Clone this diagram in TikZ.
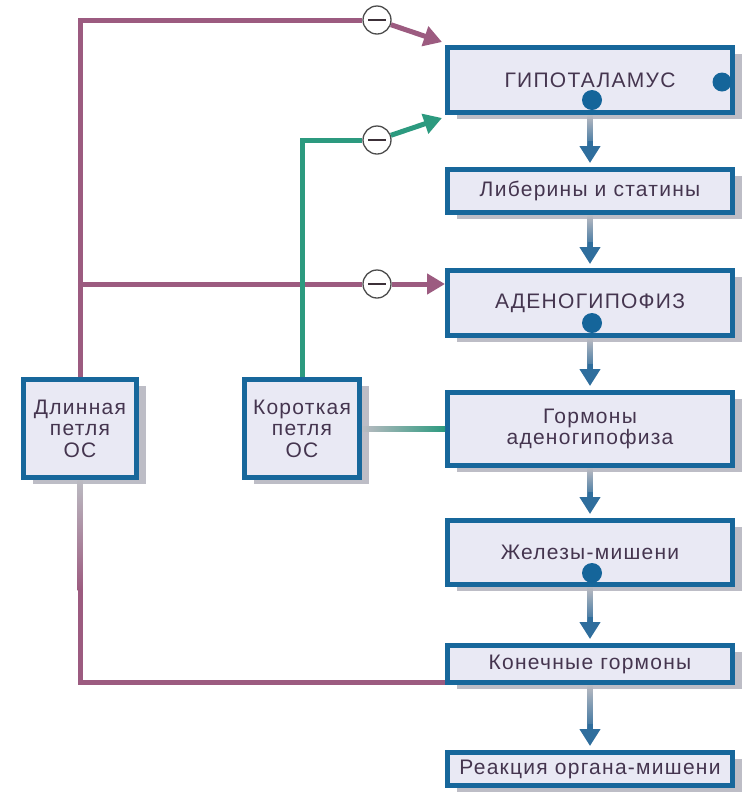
\documentclass[tikz,border=0pt]{standalone}
\usepackage{fontspec}
\setmainfont{Liberation Sans}[LetterSpace=6]
\usetikzlibrary{arrows.meta,calc}
\definecolor{bord}{HTML}{17679B}
\definecolor{boxfill}{HTML}{E9E9F4}
\definecolor{shad}{HTML}{BDBDC6}
\definecolor{txt}{HTML}{45354F}
\definecolor{mauve}{HTML}{9C5B80}
\definecolor{loopgreen}{HTML}{2C9A7F}
\definecolor{lgrey}{HTML}{BBBBC2}
\definecolor{arrblue}{HTML}{2F6E9D}
\definecolor{dotblue}{HTML}{15659A}
\definecolor{minuscol}{HTML}{3C3038}
\tikzset{
  box/.style={draw=bord, line width=5pt, fill=boxfill, inner sep=0pt, text=txt,
    font=\fontsize{21}{21.5}\selectfont, align=center, minimum width=285pt,
    preaction={fill=shad, transform canvas={shift={(9pt,-6pt)}}}},
  mauveline/.style={draw=mauve, line width=5pt},
  greenline/.style={draw=loopgreen, line width=5pt},
  tipm/.style={-{Triangle[length=18pt,width=20pt]}},
  minus/.style={circle, draw=black!70, line width=1.3pt, fill=white, minimum size=28pt, inner sep=0pt,
    path picture={\draw[line width=1.8pt, draw=minuscol] ([xshift=-9pt]path picture bounding box.center) -- ([xshift=9pt]path picture bounding box.center);}},
  bluedot/.style={fill=dotblue}
}
\newcommand\flowarr[2]{%
  \shade[top color=lgrey, bottom color=arrblue] ($(#1.south)+(-2.5,0)$) rectangle ($(#2.north)+(2.5,-18)$);
  \draw[arrblue, line width=5pt, -{Triangle[length=17pt,width=20pt]}] ($(#2.north)+(0,-26)$) -- ($(#2.north)+(0,-4)$);
}
\begin{document}
\begin{tikzpicture}[x=1pt,y=-1pt]
\useasboundingbox[fill=white] (0,0) rectangle (746,796);

% right column
\node[box, minimum height=65pt] (hyp) at (590,80) {ГИПОТАЛАМУС};
\node[box, minimum height=43pt] (lib) at (590,191) {Либерины и статины};
\node[box, minimum height=65pt] (aden) at (590,303) {АДЕНОГИПОФИЗ};
\node[box, minimum height=73pt] (gorm) at (590,429) {Гормоны\\аденогипофиза};
\node[box, minimum height=64pt] (zhel) at (590,552.5) {Железы-мишени};
\node[box, minimum height=37pt] (kon) at (590,664) {Конечные гормоны};
\node[box, minimum height=33pt] (reak) at (590,769) {Реакция органа-мишени};

% left boxes
\node[box, minimum width=113pt, minimum height=98pt] (long) at (80,428.5) {Длинная\\петля\\ОС};
\node[box, minimum width=115pt, minimum height=98pt] (short) at (302,428.5) {Короткая\\петля\\ОС};

% dots
\fill[bluedot] ($(hyp.south)+(2,-15)$) circle (10pt);
\fill[bluedot] ($(hyp.east)+(-13,2)$) circle (9.5pt);
\fill[bluedot] ($(aden.south)+(2,-15)$) circle (10pt);
\fill[bluedot] ($(zhel.south)+(2,-14)$) circle (10pt);

% flow arrows
\flowarr{hyp}{lib}
\flowarr{lib}{aden}
\flowarr{aden}{gorm}
\flowarr{gorm}{zhel}
\flowarr{zhel}{kon}
\flowarr{kon}{reak}

% minus circles
\node[minus] (m1) at (377,20) {};
\node[minus] (m2) at (377,140) {};
\node[minus] (m3) at (377,284) {};

% long loop
\draw[mauveline] (long.north) |- (m1);
\draw[mauveline, tipm] (m1) -- ($(hyp.north west)+(-3,-3)$);
\coordinate (j1) at (m3 -| long.north);
\draw[mauveline] (j1) -- (m3);
\draw[mauveline, tipm] (m3) -- (m3 -| aden.west);
\coordinate (kb) at ($(kon.south west)+(0,-3)$);
\coordinate (fadeend) at ($(long.south)+(0,110)$);
\draw[mauveline] (fadeend) |- (kb);
\shade[top color=lgrey, bottom color=mauve] ($(long.south)+(-2.5,0)$) rectangle ($(fadeend)+(2.5,0.5)$);

% short loop
\draw[greenline] (short.north) |- (m2);
\draw[greenline, tipm] (m2) -- ($(hyp.south west)+(-3,3)$);
\shade[left color=lgrey, right color=loopgreen] ($(short.east)+(0,-2.5)$) rectangle ($(gorm.west |- short.east)+(0,2.5)$);
\end{tikzpicture}
\end{document}
